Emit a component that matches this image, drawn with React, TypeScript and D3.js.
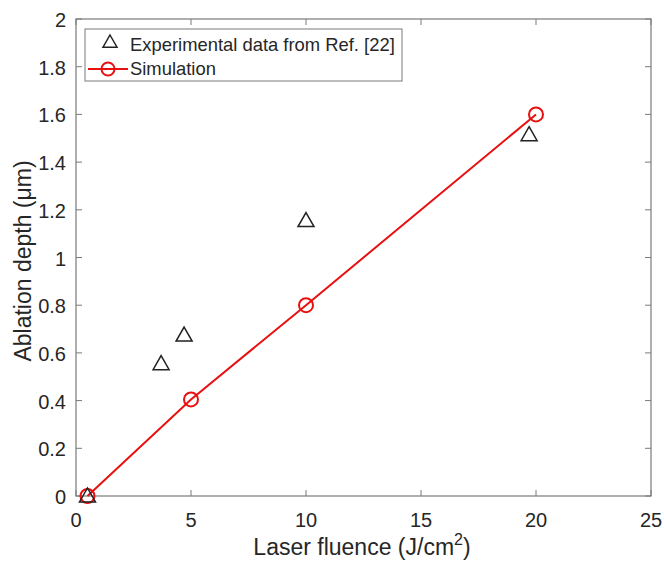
import React from "react";
import * as d3 from "d3";

const expX = [0.5, 3.7, 4.7, 10, 19.7];
const expY = [0, 0.555, 0.675, 1.155, 1.515];
const simX = [0.5, 5, 10, 20];
const simY = [0, 0.405, 0.8, 1.6];
const xTicks = [0, 5, 10, 15, 20, 25];
const yTicks = [0, 0.2, 0.4, 0.6, 0.8, 1, 1.2, 1.4, 1.6, 1.8, 2];
const legendLabels = ["Experimental data from Ref. [22]", "Simulation"];

const W = 664, H = 564;
const L = 76, R = 651, T = 19, B = 496;

export default function App() {
  const x = d3.scaleLinear().domain([0, 25]).range([L, R]);
  const y = d3.scaleLinear().domain([0, 2]).range([B, T]);
  const line = d3.line<number>().x((_, i) => x(simX[i])).y((d) => y(d));
  const tri = (cx: number, cy: number, s = 8) =>
    `M${cx},${cy - s} L${cx + s},${cy + s * 0.75} L${cx - s},${cy + s * 0.75} Z`;
  const axisColor = "#7a7a7a";
  const textColor = "#262626";
  const font = "Liberation Sans, Arial, sans-serif";
  const tl = 6;
  return (
    <svg width={W} height={H} style={{ position: "absolute", left: 0, top: 0, background: "#fff" }}>
      <rect x={0} y={0} width={W} height={H} fill="#fff" />
      {xTicks.map((t) => (
        <g key={"xt" + t}>
          <line x1={x(t)} x2={x(t)} y1={B} y2={B - tl} stroke={axisColor} />
          <line x1={x(t)} x2={x(t)} y1={T} y2={T + tl} stroke={axisColor} />
          <text x={x(t)} y={B + 31} textAnchor="middle" fontSize={20} fill={textColor} fontFamily={font}>
            {t}
          </text>
        </g>
      ))}
      {yTicks.map((t) => (
        <g key={"yt" + t}>
          <line x1={L} x2={L + tl} y1={y(t)} y2={y(t)} stroke={axisColor} />
          <line x1={R} x2={R - tl} y1={y(t)} y2={y(t)} stroke={axisColor} />
          <text x={L - 10} y={y(t) + 8} textAnchor="end" fontSize={20} fill={textColor} fontFamily={font}>
            {d3.format("~g")(t)}
          </text>
        </g>
      ))}
      <rect x={L} y={T} width={R - L} height={B - T} fill="none" stroke={axisColor} strokeWidth={1.2} />
      <path d={line(simY) || ""} fill="none" stroke="#e81010" strokeWidth={2} />
      {simY.map((v, i) => (
        <circle key={"c" + i} cx={x(simX[i])} cy={y(v)} r={7} fill="none" stroke="#e81010" strokeWidth={2} />
      ))}
      {expY.map((v, i) => (
        <path key={"t" + i} d={tri(x(expX[i]), y(v))} fill="none" stroke="#222" strokeWidth={1.5} />
      ))}
      <rect x={85} y={29} width={317} height={52} fill="#fff" stroke={axisColor} strokeWidth={1} />
      <path d={tri(110, 42, 7)} fill="none" stroke="#222" strokeWidth={1.5} />
      <text x={130} y={51} fontSize={18.4} fill={textColor} fontFamily={font}>{legendLabels[0]}</text>
      <line x1={88} x2={128} y1={69} y2={69} stroke="#e81010" strokeWidth={2} />
      <circle cx={108} cy={69} r={6.5} fill="none" stroke="#e81010" strokeWidth={2} />
      <text x={130} y={75} fontSize={18.4} fill={textColor} fontFamily={font}>{legendLabels[1]}</text>
      <text x={362} y={555} textAnchor="middle" fontSize={23} fill={textColor} fontFamily={font}>
        Laser fluence (J/cm<tspan dy={-10} fontSize={16}>2</tspan><tspan dy={10}>)</tspan>
      </text>
      <text
        transform={`translate(31,261) rotate(-90)`}
        textAnchor="middle"
        fontSize={23}
        fill={textColor}
        fontFamily={font}
      >
        Ablation depth (μm)
      </text>
    </svg>
  );
}
